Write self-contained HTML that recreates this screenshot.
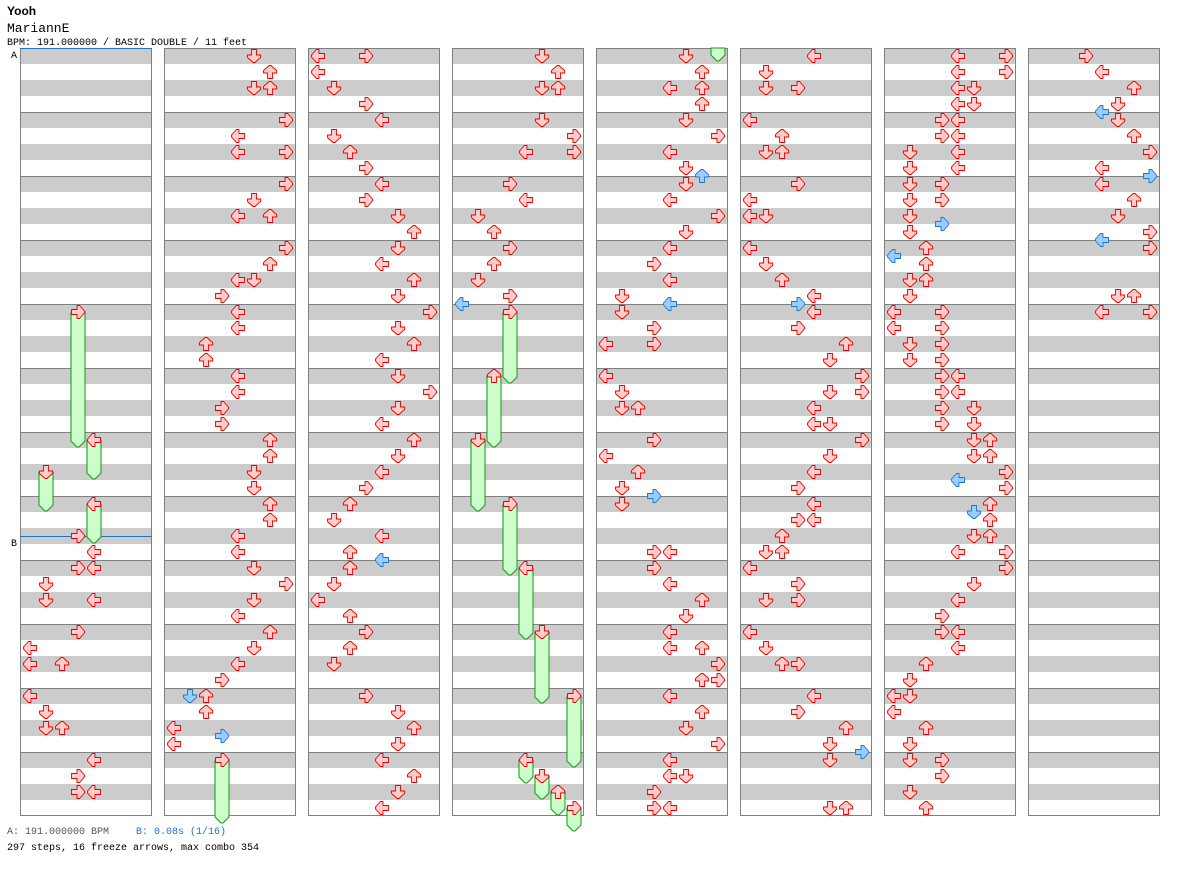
<!DOCTYPE html>
<html><head><meta charset="utf-8"><style>
body{margin:0;background:#fff;width:1184px;height:876px;overflow:hidden;font-family:"Liberation Mono",monospace}
svg{position:absolute;left:0;top:0}
</style></head><body>
<svg id="s" width="1184" height="876" xmlns="http://www.w3.org/2000/svg" font-family="Liberation Mono, monospace">
<text x="7" y="15" font-size="12" font-weight="bold" font-family="Liberation Sans, sans-serif">Yooh</text>
<text x="7" y="32" font-size="13">MariannE</text>
<text x="7" y="45" font-size="10">BPM: 191.000000 / BASIC DOUBLE / 11 feet</text>
<text x="11" y="58" font-size="10">A</text>
<text x="11" y="546" font-size="10">B</text>
<text x="7" y="834" font-size="10" fill="#555">A: 191.000000 BPM</text>
<text x="136" y="834" font-size="10" fill="#1a73d0">B: 0.08s (1/16)</text>
<text x="7" y="850" font-size="10">297 steps, 16 freeze arrows, max combo 354</text>
<g id="g"></g>
</svg>
<script>
var cols=[20,164,308,452,596,740,884,1028];
var D=[
"312:78 440:94 472:46 504:94 536:78 552:94 568:78,94 584:46 600:46,94 632:78 648:30 664:30,62 696:30 712:46 728:46,62 760:94 776:78 792:78,94",
"56:254 72:270 88:254,270 120:286 136:238 152:238,286 184:286 200:254 216:238,270 248:286 264:270 280:238,254 296:222 312:238 328:238 344:206 360:206 376:238 392:238 408:222 424:222 440:270 456:270 472:254 488:254 504:270 520:270 536:238 552:238 568:254 584:286 600:254 616:238 632:270 648:254 664:238 680:222 696:206,b190 712:206 728:174 736:b222 744:174 760:222",
"56:318,366 72:318 88:334 104:366 120:382 136:334 152:350 168:366 184:382 200:366 216:398 232:414 248:398 264:382 280:414 296:398 312:430 328:398 344:414 360:382 376:398 392:430 408:398 424:382 440:414 456:398 472:382 488:366 504:350 520:334 536:382 552:350 560:b382 568:350 584:334 600:318 616:350 632:366 648:350 664:334 696:366 712:398 728:414 744:398 760:382 776:414 792:398 808:382",
"56:542 72:558 88:542,558 120:542 136:574 152:526,574 184:510 200:526 216:478 232:494 248:510 264:494 280:478 296:510 304:b462 312:510 376:494 440:478 504:510 568:526 632:542 696:574 760:526 776:542 792:558 808:574",
"56:686 72:702 88:670,702 104:702 120:686 136:718 152:670 168:686 176:b702 184:686 200:670 216:718 232:686 248:670 264:654 280:670 296:622 304:b670 312:622 328:654 344:606,654 376:606 392:622 408:622,638 440:654 456:606 472:638 488:622 496:b654 504:622 552:654,670 568:654 584:670 600:702 616:686 632:670 648:670,702 664:718 680:702,718 696:670 712:702 728:686 744:718 760:670 776:670,686 792:654 808:654,670",
"56:814 72:766 88:766,798 120:750 136:782 152:766,782 184:798 200:750 216:750,766 248:750 264:766 280:782 296:814 304:b798 312:814 328:798 344:846 360:830 376:862 392:830,862 408:814 424:814,830 440:862 456:830 472:814 488:798 504:814 520:798,814 536:782 552:766,782 568:750 584:798 600:766,798 632:750 648:766 664:782,798 696:814 712:798 728:846 744:830 752:b862 760:830 808:830,846",
"56:958,1006 72:958,1006 88:958,974 104:958,974 120:942,958 136:942,958 152:910,958 168:910,958 184:910,942 200:910,942 216:910 224:b942 232:910 248:926 256:b894 264:926 280:910,926 296:910 312:894,942 328:894,942 344:910,942 360:910,942 376:942,958 392:942,958 408:942,974 424:942,974 440:974,990 456:974,990 472:1006 480:b958 488:1006 504:990 512:b974 520:990 536:974,990 552:958,1006 568:1006 584:974 600:958 616:942 632:942,958 648:958 664:926 680:910 696:894,910 712:894 728:926 744:910 760:910,942 776:942 792:910 808:926",
"56:1086 72:1102 88:1134 104:1118 112:b1102 120:1118 136:1134 152:1150 168:1102 176:b1150 184:1102 200:1134 216:1118 232:1150 240:b1102 248:1150 296:1118,1134 312:1102,1150"
];
var F=[[78,312,440],[94,440,472],[94,504,536],[46,472,504],[222,760,816],[510,312,376],[494,376,440],[478,440,504],[510,504,568],[526,568,632],[542,632,696],[574,696,760],[526,760,776],[542,776,792],[558,792,808],[574,808,824],[718,48,54]];
var h='';
cols.forEach(function(c){
 for(var y=48;y<816;y+=32)h+='<rect x="'+c+'" y="'+y+'" width="132" height="16" fill="#cccccc"/>';
 for(var y=112;y<816;y+=64)h+='<line x1="'+c+'" x2="'+(c+132)+'" y1="'+(y+.5)+'" y2="'+(y+.5)+'" stroke="#808080"/>';
 h+='<rect x="'+(c+.5)+'" y="48.5" width="131" height="767" fill="none" stroke="#808080"/>';
});
h+='<line x1="20" x2="152" y1="48.5" y2="48.5" stroke="#1a73d0"/><line x1="20" x2="152" y1="536.5" y2="536.5" stroke="#1a73d0"/>';
F.forEach(function(f){var x=f[0],a=f[1],b=f[2];
 h+='<path d="M'+(x-7)+' '+a+' L'+(x+7)+' '+a+' L'+(x+7)+' '+(b+1)+' L'+(x+1)+' '+(b+7)+' L'+(x-1)+' '+(b+7)+' L'+(x-7)+' '+(b+1)+' Z" fill="#ccffcc" stroke="#119911"/>';});
var P="-2.5,-6.5 2.5,-6.5 2.5,-1 6.5,-1 6.5,1.5 1,6.5 -1,6.5 -6.5,1.5 -6.5,-1 -2.5,-1";
var rot=[90,0,180,270];
D.forEach(function(s,ci){var c=cols[ci];
 s.split(' ').forEach(function(e){var p=e.split(':'),y=+p[0];
  p[1].split(',').forEach(function(v){var b=v[0]=='b';var x=+(b?v.slice(1):v);
   var lane=Math.round((x-c-10)/16)%4;
   h+='<polygon points="'+P+'" transform="translate('+x+','+y+') rotate('+rot[lane]+')" fill="'+(b?'#99ccff':'#ffcccc')+'" stroke="'+(b?'#2277cc':'#ee0000')+'" stroke-width="0.9"/>';
  });});});
document.getElementById('g').innerHTML=h;
</script>
</body></html>
